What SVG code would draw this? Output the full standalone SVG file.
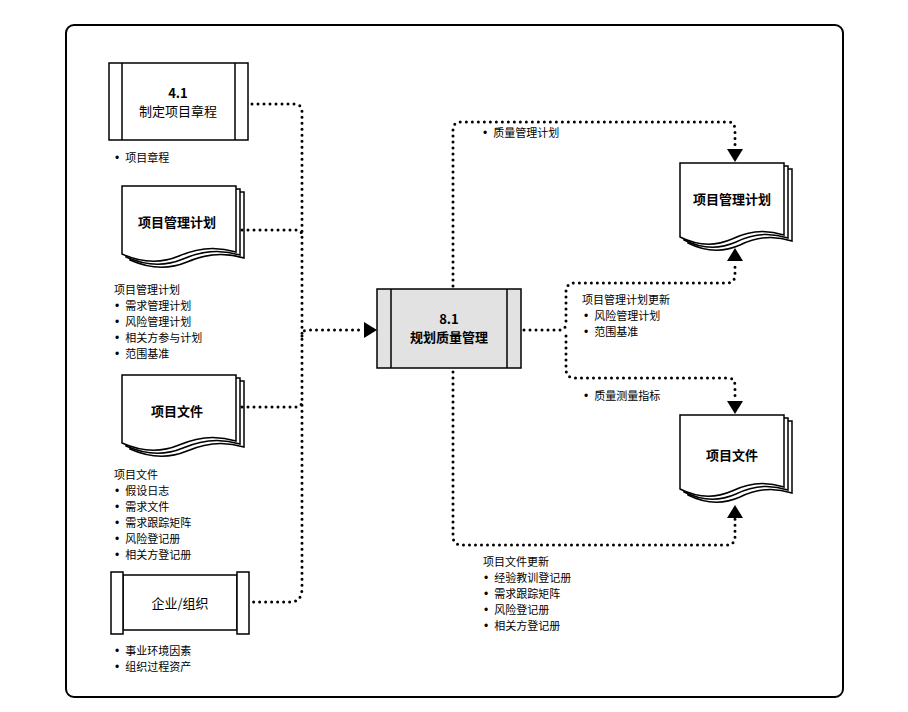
<svg xmlns="http://www.w3.org/2000/svg" width="908" height="712" viewBox="0 0 908 712">
<style>
text{font-family:"Noto Sans CJK SC","Liberation Sans",sans-serif;font-size:11px;fill:#000}
.b{font-family:"Liberation Sans",sans-serif;font-size:12px}
.t{font-size:13px;font-weight:bold;text-anchor:middle}
.box{fill:#fff;stroke:#000;stroke-width:1.5}
.dot{fill:none;stroke:#000;stroke-width:3;stroke-dasharray:0 6;stroke-linecap:round}
.arr{fill:#000}
</style>
<defs>
<path id="docL" d="M0,0 H114 V66 C95,60 75,62 57,70 C38,78 18,76 0,68 Z" class="box"/>
<path id="docR" d="M0,0 H104 V72 C86,66 68,68 52,76 C34,84 16,82 0,74 Z" class="box"/>
</defs>
<rect x="66" y="25" width="777" height="672" rx="8" fill="#fff" stroke="#000" stroke-width="2"/>

<g id="n41">
<rect x="109" y="63" width="139" height="77" class="box"/>
<line x1="122" y1="63" x2="122" y2="140" stroke="#000" stroke-width="1.5"/>
<line x1="235" y1="63" x2="235" y2="140" stroke="#000" stroke-width="1.5"/>
<text x="178" y="98" class="t">4.1</text>
<text x="178" y="116" class="t" style="font-weight:normal">制定项目章程</text>
</g>
<text x="115" y="162"><tspan class="b">•</tspan><tspan dx="6">项目章程</tspan></text>

<g id="pmp">
<use href="#docL" x="130" y="192"/><use href="#docL" x="126" y="189"/><use href="#docL" x="122" y="186"/>
<text x="177" y="227" class="t">项目管理计划</text>
</g>
<text x="114" y="294">项目管理计划</text>
<text x="115" y="310"><tspan class="b">•</tspan><tspan dx="6">需求管理计划</tspan></text>
<text x="115" y="326"><tspan class="b">•</tspan><tspan dx="6">风险管理计划</tspan></text>
<text x="115" y="342"><tspan class="b">•</tspan><tspan dx="6">相关方参与计划</tspan></text>
<text x="115" y="358"><tspan class="b">•</tspan><tspan dx="6">范围基准</tspan></text>

<g id="pd">
<use href="#docL" x="130" y="381"/><use href="#docL" x="126" y="378"/><use href="#docL" x="122" y="375"/>
<text x="177" y="416" class="t">项目文件</text>
</g>
<text x="114" y="479">项目文件</text>
<text x="115" y="495"><tspan class="b">•</tspan><tspan dx="6">假设日志</tspan></text>
<text x="115" y="511"><tspan class="b">•</tspan><tspan dx="6">需求文件</tspan></text>
<text x="115" y="527"><tspan class="b">•</tspan><tspan dx="6">需求跟踪矩阵</tspan></text>
<text x="115" y="543"><tspan class="b">•</tspan><tspan dx="6">风险登记册</tspan></text>
<text x="115" y="559"><tspan class="b">•</tspan><tspan dx="6">相关方登记册</tspan></text>

<g id="eef">
<rect x="123" y="575" width="114" height="55" class="box"/>
<rect x="111" y="572" width="12" height="62" class="box"/>
<rect x="237" y="572" width="12" height="62" class="box"/>
<text x="180" y="608" class="t" style="font-weight:normal">企业/组织</text>
</g>
<text x="115" y="655"><tspan class="b">•</tspan><tspan dx="6">事业环境因素</tspan></text>
<text x="115" y="671"><tspan class="b">•</tspan><tspan dx="6">组织过程资产</tspan></text>

<g id="n81">
<rect x="377" y="289" width="144" height="79" fill="#e2e2e2" stroke="#000" stroke-width="1.5"/>
<line x1="391" y1="289" x2="391" y2="368" stroke="#000" stroke-width="1.5"/>
<line x1="507" y1="289" x2="507" y2="368" stroke="#000" stroke-width="1.5"/>
<text x="449" y="324" class="t">8.1</text>
<text x="449" y="342" class="t">规划质量管理</text>
</g>

<g id="pmpR">
<use href="#docR" x="688" y="169"/><use href="#docR" x="684" y="166"/><use href="#docR" x="680" y="163"/>
<text x="732" y="204" class="t">项目管理计划</text>
</g>
<g id="pdR">
<use href="#docR" x="688" y="421"/><use href="#docR" x="684" y="418"/><use href="#docR" x="680" y="415"/>
<text x="732" y="460" class="t">项目文件</text>
</g>

<g id="connectors">
<path class="dot" d="M252,104 H294 Q302,104 302,112 V588 Q302,602 290,602 H252"/>
<path class="dot" d="M242,230 H296 Q302,230 302,236"/>
<path class="dot" d="M242,407 H296 Q302,407 302,400"/>
<path class="dot" d="M302,336 Q302,330 308,330 H364"/>
<polygon class="arr" points="364,322 377,330 364,338"/>
<path class="dot" d="M453,286 V130 Q453,122 461,122 H728 Q735,122 735,130 V148"/>
<polygon class="arr" points="727,149 735,162 743,149"/>
<path class="dot" d="M524,330 H560 Q566,330 566,322 V292 Q566,283 575,283 H726 Q735,283 735,275 V262"/>
<polygon class="arr" points="727,261 735,248 743,261"/>
<path class="dot" d="M566,336 V369 Q566,378 575,378 H728 Q735,378 735,386 V400"/>
<polygon class="arr" points="727,401 735,414 743,401"/>
<path class="dot" d="M453,372 V536 Q453,545 462,545 H726 Q735,545 735,537 V518"/>
<polygon class="arr" points="727,518 735,505 743,518"/>
</g>

<text x="483" y="137"><tspan class="b">•</tspan><tspan dx="6">质量管理计划</tspan></text>
<text x="582" y="304">项目管理计划更新</text>
<text x="584" y="320"><tspan class="b">•</tspan><tspan dx="6">风险管理计划</tspan></text>
<text x="584" y="336"><tspan class="b">•</tspan><tspan dx="6">范围基准</tspan></text>
<text x="584" y="400"><tspan class="b">•</tspan><tspan dx="6">质量测量指标</tspan></text>
<text x="483" y="566">项目文件更新</text>
<text x="484" y="582"><tspan class="b">•</tspan><tspan dx="6">经验教训登记册</tspan></text>
<text x="484" y="598"><tspan class="b">•</tspan><tspan dx="6">需求跟踪矩阵</tspan></text>
<text x="484" y="614"><tspan class="b">•</tspan><tspan dx="6">风险登记册</tspan></text>
<text x="484" y="630"><tspan class="b">•</tspan><tspan dx="6">相关方登记册</tspan></text>
</svg>
